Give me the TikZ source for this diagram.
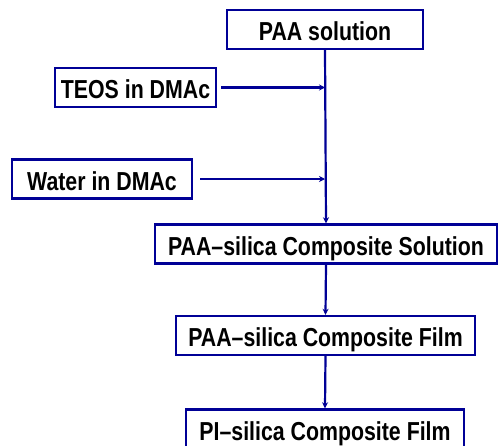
\documentclass[tikz,border=0pt]{standalone}
\usepackage{fontspec}
\setmainfont{Liberation Sans}[FakeStretch=0.82]
\usetikzlibrary{arrows.meta}
\definecolor{boxblue}{RGB}{0,0,150}

\begin{document}
\begin{tikzpicture}[x=1pt, y=-1pt, >={Stealth[length=6pt, width=6pt]},
    stepbox/.style={draw=boxblue, line width=2.4pt, fill=white, inner xsep=0pt, inner ysep=0pt,
      minimum height=39pt, text height=22pt, text depth=0pt,
      font=\fontsize{26}{30}\selectfont\bfseries},
    flow/.style={draw=boxblue, line width=2.2pt}]
  \useasboundingbox (0,0) rectangle (501,445);
  % process boxes
  \node[stepbox, minimum width=196pt] (paa)   at (325,29.5)  {PAA solution};
  \node[stepbox, minimum width=161pt] (teos)  at (135.5,87.5) {TEOS in DMAc};
  \node[stepbox, minimum width=180pt] (water) at (102,179)   {Water in DMAc};
  \node[stepbox, minimum width=342pt] (sol)   at (326,244)   {PAA--silica Composite Solution};
  \node[stepbox, minimum width=299pt] (film)  at (325.5,335.5) {PAA--silica Composite Film};
  \node[stepbox, minimum width=278pt] (pi)    at (325,429)   {PI--silica Composite Film};
  % connectors
  \draw[flow, ->] (paa.south) -- (sol.north);
  \draw[flow, ->, shorten <=4pt] (teos.east) -- (teos.east -| paa.south);
  \draw[flow, ->, shorten <=7pt] (water.east) -- (water.east -| paa.south);
  \draw[flow, ->] (sol.south) -- (film.north);
  \draw[flow, ->] (film.south) -- (pi.north);
\end{tikzpicture}
\end{document}
